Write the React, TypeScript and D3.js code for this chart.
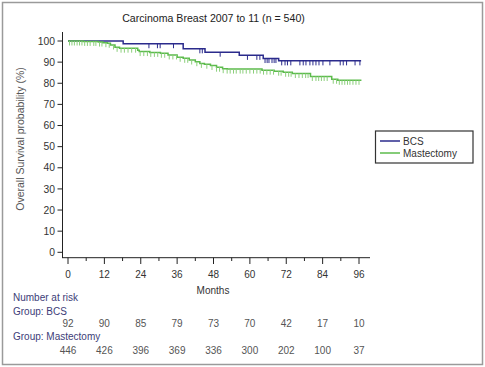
import React from "react";
import * as d3 from "d3";

const xTicks = [0, 12, 24, 36, 48, 60, 72, 84, 96];
const yTicks = [0, 10, 20, 30, 40, 50, 60, 70, 80, 90, 100];

const bcsTimes = [0, 18.2, 38, 45.2, 56.5, 64.4, 69.5];
const bcsSurv = [100, 98.7, 96.3, 94.7, 93.2, 91.7, 90.6];
const bcsEnd = 96.7;
const bcsCensor = [26.7, 29.5, 30.4, 34.8, 43.5, 44.3, 50.2, 59.2, 62.3, 63.3, 65, 65.7, 66.3, 67.3, 68, 68.6, 70.5, 71.6, 72.4, 73.5, 76.5, 77.6, 78.5, 79.8, 80.8, 81.8, 82.8, 84.1, 86.4, 89.8, 90.8, 91.9, 94.7, 96.3];

const mastTimes = [0, 5, 10, 11.5, 13, 14, 15.5, 17, 23, 23.5, 27, 30.5, 33, 36, 38, 40, 42, 43.5, 45, 47, 49, 51, 52.5, 64, 68, 71, 74, 80, 87, 89];
const mastSurv = [100, 99.8, 99.5, 99.2, 98.9, 98.1, 97.0, 96.6, 95.6, 95.0, 94.6, 94.2, 93.4, 92.3, 91.8, 91.0, 90.2, 89.4, 89.0, 88.4, 87.6, 86.9, 86.7, 86.2, 85.7, 85.2, 84.6, 83.2, 81.9, 81.4];
const mastEnd = 96.8;
const mastCensor = [0.5, 1.3, 2.1, 3, 3.8, 4.6, 5.5, 6.4, 7.3, 8.5, 9.2, 10.4, 11.2, 12.5, 13.6, 15, 16.2, 17.5, 18.6, 19.8, 21, 22.3, 23.8, 25, 26.2, 27.3, 28.5, 29.6, 30.8, 31.9, 33.4, 34.6, 35.8, 37, 38.5, 39.5, 40.8, 42.5, 44, 45.8, 47.5, 49, 50, 51.2, 52.5, 53.5, 54.6, 55.5, 56.8, 57.7, 58.8, 60, 61.2, 62.3, 63.4, 64.5, 65.6, 66.7, 67.8, 69.5, 70.3, 71.8, 72.8, 73.6, 75, 76.2, 77.3, 78.4, 79.2, 80.6, 81.8, 82.7, 83.6, 84.5, 85.5, 87.5, 88.6, 89.5, 90.4, 91.3, 92.2, 93, 94, 95, 96];

const riskBCS = [92, 90, 85, 79, 73, 70, 42, 17, 10];
const riskMast = [446, 426, 396, 369, 336, 300, 202, 100, 37];

const x = d3.scaleLinear().domain([0, 96]).range([68, 359]);
const y = d3.scaleLinear().domain([0, 100]).range([252.3, 41]);

function survAt(times: number[], survs: number[], t: number) {
  let s = survs[0];
  for (let i = 0; i < times.length; i++) if (times[i] <= t) s = survs[i];
  return s;
}

function stepPath(times: number[], survs: number[], end: number) {
  const pts: [number, number][] = times.map((t, i) => [t, survs[i]]);
  pts.push([end, survs[survs.length - 1]]);
  const line = d3.line<[number, number]>().x(d => x(d[0])).y(d => y(d[1])).curve(d3.curveStepAfter);
  return line(pts) || "";
}

const font = "'Liberation Sans', Arial, sans-serif";
const BCS_COLOR = "#2b2b8c";
const MAST_COLOR = "#5cbb4c";
const MAST_CENSOR = "#8ccf7c";
const LABEL_COLOR = "#3d3d78";

export default function App() {
  const minor = d3.range(6, 96, 12);
  return (
    <svg width={485} height={367} style={{ position: "absolute", left: 0, top: 0, background: "#fff" }} fontFamily={font}>
      <rect x={2.5} y={2.5} width={480} height={362} fill="#fff" stroke="#9a9a9a" strokeWidth={1.5} />
      <text x={213.5} y={21.5} fontSize={10.6} textAnchor="middle" fill="#222">Carcinoma Breast 2007 to 11 (n = 540)</text>

      {/* Y axis */}
      <line x1={62.5} x2={62.5} y1={32} y2={258} stroke="#222" strokeWidth={1} />
      {yTicks.map(t => (
        <g key={"y" + t}>
          <line x1={57.5} x2={62.5} y1={y(t)} y2={y(t)} stroke="#222" />
          <text x={55} y={y(t) + 3.6} fontSize={10.3} textAnchor="end" fill="#333">{t}</text>
        </g>
      ))}
      <text transform={`translate(24,139) rotate(-90)`} fontSize={10.5} textAnchor="middle" fill="#555">Overall Survival probability (%)</text>

      {/* X axis */}
      <line x1={62} x2={370} y1={257.7} y2={257.7} stroke="#222" strokeWidth={1} />
      {xTicks.map(t => (
        <g key={"x" + t}>
          <line x1={x(t)} x2={x(t)} y1={257.7} y2={264} stroke="#222" />
          <text x={x(t)} y={277.5} fontSize={10} textAnchor="middle" fill="#333">{t}</text>
        </g>
      ))}
      {minor.map(t => (
        <line key={"m" + t} x1={x(t)} x2={x(t)} y1={257.7} y2={261} stroke="#222" />
      ))}
      <text x={213} y={294} fontSize={10} textAnchor="middle" fill="#333">Months</text>

      {/* Curves */}
      <path d={stepPath(bcsTimes, bcsSurv, bcsEnd)} fill="none" stroke={BCS_COLOR} strokeWidth={1.5} />
      {bcsCensor.map((t, i) => (
        <line key={"bc" + i} x1={x(t)} x2={x(t)} y1={y(survAt(bcsTimes, bcsSurv, t))} y2={y(survAt(bcsTimes, bcsSurv, t)) + 4.5} stroke={BCS_COLOR} strokeWidth={1} />
      ))}
      <path d={stepPath(mastTimes, mastSurv, mastEnd)} fill="none" stroke={MAST_COLOR} strokeWidth={1.5} />
      {mastCensor.map((t, i) => (
        <line key={"mc" + i} x1={x(t)} x2={x(t)} y1={y(survAt(mastTimes, mastSurv, t))} y2={y(survAt(mastTimes, mastSurv, t)) + 4.5} stroke={MAST_CENSOR} strokeWidth={1} />
      ))}

      {/* Legend */}
      <rect x={375.5} y={131} width={97.5} height={32} fill="#fff" stroke="#333" strokeWidth={1.2} />
      <line x1={380} x2={400} y1={141} y2={141} stroke={BCS_COLOR} strokeWidth={1.5} />
      <text x={403} y={144.5} fontSize={10} fill="#333">BCS</text>
      <line x1={380} x2={400} y1={153} y2={153} stroke={MAST_COLOR} strokeWidth={1.5} />
      <text x={403} y={156.5} fontSize={10} fill="#333">Mastectomy</text>

      {/* Risk table */}
      <text x={13} y={300.5} fontSize={10} fill={LABEL_COLOR}>Number at risk</text>
      <text x={13} y={314.5} fontSize={10} fill={LABEL_COLOR}>Group: BCS</text>
      {riskBCS.map((v, i) => (
        <text key={"rb" + i} x={x(xTicks[i])} y={326.5} fontSize={10} textAnchor="middle" fill="#555">{v}</text>
      ))}
      <text x={13} y={340} fontSize={10} fill={LABEL_COLOR}>Group: Mastectomy</text>
      {riskMast.map((v, i) => (
        <text key={"rm" + i} x={x(xTicks[i])} y={353.5} fontSize={10} textAnchor="middle" fill="#555">{v}</text>
      ))}
    </svg>
  );
}
